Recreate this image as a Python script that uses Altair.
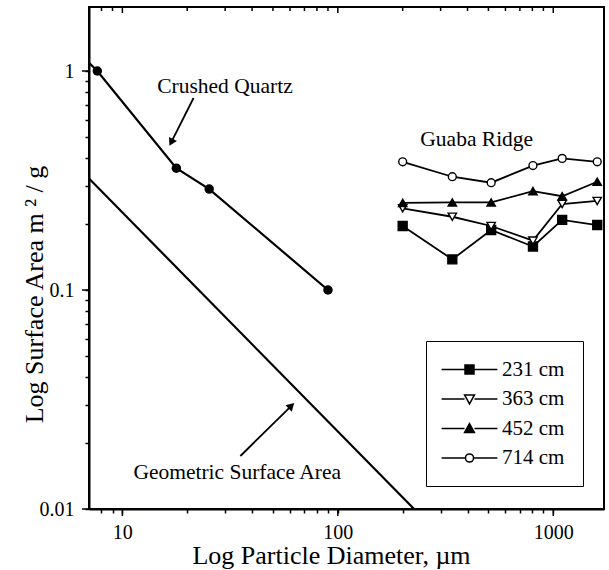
import altair as alt
import pandas as pd

FONT = "Liberation Serif"

# ---- data ----
cq_d = [7.0, 7.65, 17.8, 25.3, 90.0]
cq_sa = [1.09, 1.0, 0.36, 0.289, 0.1]
cq_marker = [False, True, True, True, True]

geo_d = [7.0, 226.0]
geo_sa = [0.323, 0.01]

gr_d = [200, 340, 515, 805, 1100, 1600]
gr_231 = [0.196, 0.138, 0.188, 0.158, 0.209, 0.198]
gr_363 = [0.236, 0.216, 0.196, 0.168, 0.247, 0.255]
gr_452 = [0.250, 0.251, 0.251, 0.283, 0.268, 0.312]
gr_714 = [0.385, 0.329, 0.309, 0.370, 0.399, 0.385]
series = ["231 cm", "363 cm", "452 cm", "714 cm"]
series_vals = [gr_231, gr_363, gr_452, gr_714]
series_shapes = ["square", "triangle-down", "triangle-up", "circle"]
series_fill = ["black", "white", "black", "white"]
series_size = [80, 70, 70, 62]
legend_paths = [
    "M-6.2,0H-1M1,0H6.2M-1,-1H1V1H-1Z",
    "M-6.2,0H-1.1M1.1,0H6.2M-1.1,-0.9L1.1,-0.9L0,1.1Z",
    "M-6.2,0H-1.1M1.1,0H6.2M0,-1.1L1.1,0.9L-1.1,0.9Z",
    "M-6.2,0H-0.9M0.9,0H6.2M0.9,0A0.9,0.9,0,1,1,-0.9,0A0.9,0.9,0,1,1,0.9,0Z",
]

x_domain = [7, 1720]
y_domain = [0.01, 1.96]
x_major = [10, 100, 1000]
x_minor = [8, 9, 20, 30, 40, 50, 60, 70, 80, 90,
           200, 300, 400, 500, 600, 700, 800, 900]
y_major = [0.01, 0.1, 1]
y_major_labels = ["0.01", "0.1", "1"]
y_minor = [0.02, 0.03, 0.04, 0.05, 0.06, 0.07, 0.08, 0.09,
           0.2, 0.3, 0.4, 0.5, 0.6, 0.7, 0.8, 0.9]

ann_text = ["Crushed Quartz", "Guaba Ridge", "Geometric Surface Area"]
ann_d = [14.5, 241.5, 11.25]
ann_sa = [0.793, 0.456, 0.0137]

arrow1_d = [21.4, 16.85]
arrow1_sa = [0.753, 0.472]
arrow2_d = [35.3, 60.9]
arrow2_sa = [0.01746, 0.0296]

W, H = 515, 502

# ---- frames ----
cq_df = pd.DataFrame({"d": cq_d, "sa": cq_sa, "m": cq_marker})
geo_df = pd.DataFrame({"d": geo_d, "sa": geo_sa})
rows = []
for s, vals in zip(series, series_vals):
    for d, v in zip(gr_d, vals):
        rows.append({"d": d, "sa": v, "series": s})
gr_df = pd.DataFrame(rows)
ann_df = pd.DataFrame({"d": ann_d, "sa": ann_sa, "t": ann_text})
a1_df = pd.DataFrame({"d": arrow1_d, "sa": arrow1_sa})
a2_df = pd.DataFrame({"d": arrow2_d, "sa": arrow2_sa})
xmaj_df = pd.DataFrame({"d": x_major})
xmin_df = pd.DataFrame({"d": x_minor})
ymaj_df = pd.DataFrame({"sa": y_major})

xscale = alt.Scale(type="log", domain=x_domain, nice=False)
yscale = alt.Scale(type="log", domain=y_domain, nice=False)

x_label_expr = " : ".join(
    [f"datum.value == {v} ? '{v}'" for v in x_major]) + " : ''"
y_label_expr = " : ".join(
    [f"datum.value == {v} ? '{l}'" for v, l in zip(y_major, y_major_labels)]) + " : ''"

xaxis = alt.Axis(values=sorted(x_major + x_minor), labelExpr=x_label_expr,
                 title="Log Particle Diameter, µm", grid=False,
                 tickSize=4, labelPadding=9, labelFlush=False, labelOverlap=False,
                 titleX=242, titleY=54, titleBaseline="alphabetic", titleAlign="center")
yaxis = alt.Axis(values=sorted(y_major + y_minor), labelExpr=y_label_expr,
                 title="Log Surface Area m ² / g", grid=False,
                 tickSize=4, labelPadding=11, labelFlush=False, labelOverlap=False,
                 titleAngle=270, titleX=-47, titleY=287,
                 titleBaseline="alphabetic", titleAlign="center")


def X():
    return alt.X("d:Q", scale=xscale, axis=xaxis)


def Y():
    return alt.Y("sa:Q", scale=yscale, axis=yaxis)


layers = []

layers.append(alt.Chart(geo_df).mark_line(color="black", strokeWidth=2.2, clip=True)
              .encode(x=X(), y=Y()))
layers.append(alt.Chart(cq_df).mark_line(color="black", strokeWidth=2.2, clip=True)
              .encode(x=X(), y=Y()))
layers.append(alt.Chart(cq_df).transform_filter("datum.m").mark_circle(
    color="black", size=90, opacity=1).encode(x=X(), y=Y()))

for s in series:
    layers.append(alt.Chart(gr_df).transform_filter(alt.datum.series == s)
                  .mark_line(color="black", strokeWidth=1.8, clip=True)
                  .encode(x=X(), y=Y()))
for s, shp, f, sz in zip(series, series_shapes, series_fill, series_size):
    layers.append(alt.Chart(gr_df).transform_filter(alt.datum.series == s)
                  .mark_point(shape=shp, filled=True, fill=f, stroke="black",
                              strokeWidth=1.4, size=sz, opacity=1)
                  .encode(x=X(), y=Y()))

# legend-only layer (no data drawn)
leg = alt.Legend(orient="none", legendX=337, legendY=334, title=None,
                 padding=18, strokeColor="black", fillColor="white",
                 symbolStrokeWidth=1.5, symbolStrokeColor="black", symbolSize=81,
                 symbolOpacity=1,
                 symbolOffset=15, labelOffset=22, labelFont=FONT, labelFontSize=21,
                 labelColor="black", rowPadding=7.5)
layers.append(alt.Chart(gr_df).transform_filter("false")
              .mark_point(filled=True, strokeWidth=1.5, size=81, opacity=1)
              .encode(x=X(), y=Y(),
                      shape=alt.Shape("series:N", scale=alt.Scale(domain=series, range=legend_paths), legend=leg),
                      fill=alt.Fill("series:N", scale=alt.Scale(domain=series, range=series_fill), legend=leg),
                      stroke=alt.Stroke("series:N", scale=alt.Scale(domain=series, range=["black"] * 4), legend=leg)))

# annotations
layers.append(alt.Chart(ann_df).mark_text(align="left", baseline="alphabetic", font=FONT,
                                          fontSize=21.5, color="black")
              .encode(x=X(), y=Y(), text="t:N"))
layers.append(alt.Chart(a1_df).mark_line(color="black", strokeWidth=1.8).encode(x=X(), y=Y()))
layers.append(alt.Chart(a2_df).mark_line(color="black", strokeWidth=1.8).encode(x=X(), y=Y()))
layers.append(alt.Chart(a1_df.iloc[[1]]).mark_point(shape="triangle-up", filled=True, color="black",
                                                   size=80, angle=206.6, opacity=1)
              .encode(x=X(), y=Y()))
layers.append(alt.Chart(a2_df.iloc[[1]]).mark_point(shape="triangle-up", filled=True, color="black",
                                                   size=80, angle=45.5, opacity=1)
              .encode(x=X(), y=Y()))

# major ticks (longer, outward) and top inside ticks
layers.append(alt.Chart(xmaj_df).mark_rule(color="black", strokeWidth=1.5)
              .encode(x=X(), y=alt.value(H), y2=alt.value(H + 7)))
layers.append(alt.Chart(ymaj_df).mark_rule(color="black", strokeWidth=1.5)
              .encode(y=Y(), x=alt.value(0), x2=alt.value(-7)))
layers.append(alt.Chart(xmaj_df).mark_rule(color="black", strokeWidth=1.5)
              .encode(x=X(), y=alt.value(0), y2=alt.value(6)))
layers.append(alt.Chart(xmin_df).mark_rule(color="black", strokeWidth=1.5)
              .encode(x=X(), y=alt.value(0), y2=alt.value(4)))

chart = alt.layer(*layers).properties(
    width=W, height=H,
    background="white",
    autosize=alt.AutoSizeParams(type="none"),
    padding={"left": 89, "top": 7, "right": 5, "bottom": 61},
).configure_view(stroke="black", strokeWidth=2).configure_axis(
    labelFont=FONT, titleFont=FONT, labelFontSize=20, titleFontSize=26,
    labelColor="black", titleColor="black", titleFontWeight="normal",
    domainColor="black", domainWidth=2, tickColor="black", tickWidth=1.5,
)

chart.save("out.html", embed_options={"renderer": "svg", "actions": False})
